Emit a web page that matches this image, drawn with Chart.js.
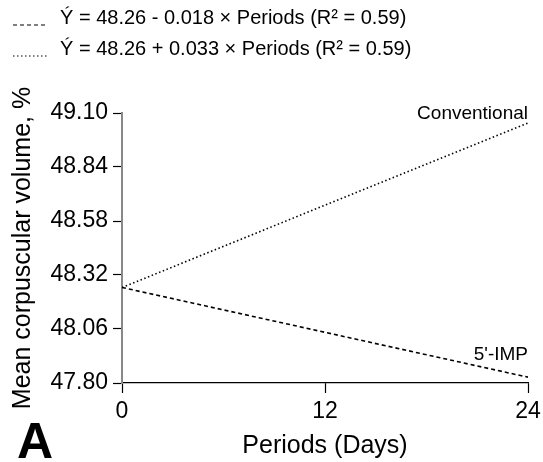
<!DOCTYPE html>
<html>
<head>
<meta charset="utf-8">
<script src="https://cdn.jsdelivr.net/npm/chart.js@4.4.1/dist/chart.umd.min.js"></script>
<style>
  html, body { margin: 0; padding: 0; background: #fff; }
  #wrap { width: 543px; height: 462px; }
</style>
</head>
<body>
<div id="wrap"><canvas id="mcv-chart"></canvas></div>
<script>
// regression lines: end points at day 0 and day 24
const periods = [0, 24];
const impValues = [48.26, 47.828];
const conventionalValues = [48.26, 49.052];
const lineNames = ["5'-IMP", "Conventional"];
const legendLabels = [
  "Ý = 48.26 - 0.018 × Periods (R² = 0.59)",
  "Ý = 48.26 + 0.033 × Periods (R² = 0.59)",
];
const yTicks = [47.80, 48.06, 48.32, 48.58, 48.84, 49.10];
const xTicks = [0, 12, 24];

const FONT = "'Liberation Sans', Arial, sans-serif";

const toPoints = (vals) => periods.map((p, i) => ({ x: p, y: vals[i] }));

// legend drawn by hand so the swatches keep their dash pattern
const equationLegend = {
  id: "equationLegend",
  afterDraw(chart) {
    const ctx = chart.ctx;
    const rows = [18, 49];
    ctx.save();
    chart.data.datasets.forEach((ds, i) => {
      const y = rows[i];
      ctx.strokeStyle = ds.borderColor;
      ctx.lineWidth = 1.2;
      ctx.setLineDash(ds.borderDash);
      ctx.beginPath();
      ctx.moveTo(13, y + 7);
      ctx.lineTo(47, y + 7);
      ctx.stroke();
      ctx.setLineDash([]);
      ctx.fillStyle = "#000";
      ctx.font = "20px " + FONT;
      ctx.textBaseline = "middle";
      ctx.textAlign = "left";
      ctx.fillText(legendLabels[i], 60, y);
    });
    ctx.restore();
  },
};

// names at the right end of each line, plus the panel letter
const lineLabels = {
  id: "lineLabels",
  afterDatasetsDraw(chart) {
    const { ctx, scales: { x, y } } = chart;
    const xEnd = x.getPixelForValue(periods[periods.length - 1]);
    ctx.save();
    ctx.fillStyle = "#000";
    ctx.font = "19px " + FONT;
    ctx.textAlign = "right";
    ctx.textBaseline = "middle";
    ctx.fillText(lineNames[1], xEnd, y.getPixelForValue(conventionalValues[1]) - 9);
    ctx.fillText(lineNames[0], xEnd, y.getPixelForValue(impValues[1]) - 22);
    ctx.font = "bold 50px " + FONT;
    ctx.textAlign = "left";
    ctx.textBaseline = "alphabetic";
    ctx.fillText("A", 17, 458);
    ctx.restore();
  },
};

new Chart(document.getElementById("mcv-chart"), {
  type: "line",
  data: {
    datasets: [
      {
        label: lineNames[0],
        data: toPoints(impValues),
        borderColor: "#000",
        borderWidth: 1.6,
        borderDash: [4, 3],
        pointRadius: 0,
        fill: false,
      },
      {
        label: lineNames[1],
        data: toPoints(conventionalValues),
        borderColor: "#000",
        borderWidth: 1.6,
        borderDash: [1.5, 2.5],
        pointRadius: 0,
        fill: false,
      },
    ],
  },
  options: {
    responsive: true,
    maintainAspectRatio: false,
    animation: false,
    layout: { padding: { top: 113, right: 15, left: 0, bottom: 0 } },
    plugins: { legend: { display: false }, tooltip: { enabled: false } },
    scales: {
      x: {
        type: "linear",
        min: 0,
        max: 24,
        afterBuildTicks: (s) => { s.ticks = xTicks.map((v) => ({ value: v })); },
        afterFit: (s) => { s.height = 79; s.paddingRight = 0; },
        grid: { drawOnChartArea: false, tickLength: 10, tickColor: "#000", tickWidth: 1.2 },
        border: { color: "#000", width: 1.2 },
        ticks: { color: "#000", padding: 5, font: { family: FONT, size: 23 } },
        title: {
          display: true,
          text: "Periods (Days)",
          color: "#000",
          font: { family: FONT, size: 25 },
          padding: { top: 0, bottom: 1 },
        },
      },
      y: {
        min: 47.80,
        max: 49.10,
        afterBuildTicks: (s) => { s.ticks = yTicks.map((v) => ({ value: v })); },
        afterFit: (s) => { s.width = 122; },
        grid: { drawOnChartArea: false, tickLength: 9, tickColor: "#000", tickWidth: 1.2 },
        border: { color: "#888", width: 2 },
        ticks: {
          color: "#000",
          padding: 5,
          font: { family: FONT, size: 23 },
          callback: (v) => Number(v).toFixed(2),
        },
        title: {
          display: true,
          text: "Mean corpuscular volume, %",
          color: "#000",
          font: { family: FONT, size: 25 },
          padding: { top: 8, bottom: 0 },
        },
      },
    },
  },
  plugins: [equationLegend, lineLabels],
});
</script>
</body>
</html>
